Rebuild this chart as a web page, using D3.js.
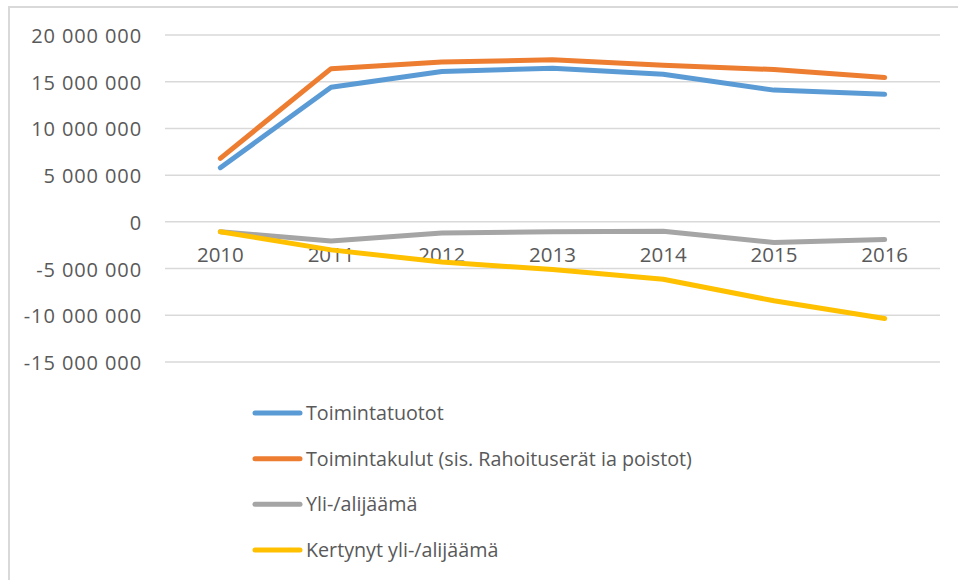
<!DOCTYPE html>
<html>
<head>
<meta charset="utf-8">
<script src="https://cdn.jsdelivr.net/npm/d3@7"></script>
<style>
  body { margin: 0; background: #fff; }
  text { font-family: "Open Sans", "Noto Sans", sans-serif; fill: #595959; }
</style>
</head>
<body>
<div id="chart"></div>
<script>
const years = ["2010", "2011", "2012", "2013", "2014", "2015", "2016"];
const seriesNames = [
    "Toimintatuotot",
    "Toimintakulut (sis. Rahoituserät ia poistot)",
    "Yli-/alijäämä",
    "Kertynyt yli-/alijäämä",
];
const toimintatuotot = [5800000, 14400000, 16100000, 16450000, 15800000, 14100000, 13650000];
const toimintakulut = [6800000, 16400000, 17100000, 17350000, 16750000, 16300000, 15450000];
const yliAlijaama = [-1050000, -2050000, -1200000, -1050000, -1000000, -2200000, -1900000];
const kertynyt = [-1050000, -3000000, -4300000, -5100000, -6150000, -8450000, -10350000];
const yTicks = [20000000, 15000000, 10000000, 5000000, 0, -5000000, -10000000, -15000000];
const colors = ["#5B9BD5", "#ED7D31", "#A5A5A5", "#FFC000"];

const width = 958;
const height = 580;
const plot = { left: 165, right: 940, top: 35, bottom: 362 };

const series = [toimintatuotot, toimintakulut, yliAlijaama, kertynyt];

const svg = d3.select("#chart")
    .append("svg")
    .attr("width", width)
    .attr("height", height);

// chart frame (only top and left visible)
svg.append("path")
    .attr("d", "M9,580 V7 H958")
    .attr("fill", "none")
    .attr("stroke", "#D9D9D9")
    .attr("stroke-width", 2);

const x = d3.scaleBand()
    .domain(years)
    .range([plot.left, plot.right]);

const y = d3.scaleLinear()
    .domain([-15000000, 20000000])
    .range([plot.bottom, plot.top]);

const fmt = d3.formatLocale({ decimal: ",", thousands: " ", grouping: [3], currency: ["", ""], minus: "-" }).format(",d");

// gridlines
svg.append("g")
    .selectAll("line")
    .data(yTicks)
    .enter()
    .append("line")
    .attr("x1", plot.left)
    .attr("x2", plot.right)
    .attr("y1", d => y(d))
    .attr("y2", d => y(d))
    .attr("stroke", "#D9D9D9")
    .attr("stroke-width", 1.5);

// y labels
svg.append("g")
    .selectAll("text")
    .data(yTicks)
    .enter()
    .append("text")
    .attr("x", 142)
    .attr("y", d => y(d) + 8)
    .attr("text-anchor", "end")
    .style("font-size", "20px")
    .style("letter-spacing", "0.9px")
    .text(d => fmt(d));

// x labels (sit just below the zero line)
svg.append("g")
    .selectAll("text")
    .data(years)
    .enter()
    .append("text")
    .attr("x", d => x(d) + x.bandwidth() / 2)
    .attr("y", y(0) + 40)
    .attr("text-anchor", "middle")
    .style("font-size", "20.5px")
    .text(d => d);

const line = d3.line()
    .x((d, i) => x(years[i]) + x.bandwidth() / 2)
    .y(d => y(d));

svg.append("g")
    .selectAll("path")
    .data(series)
    .enter()
    .append("path")
    .attr("d", d => line(d))
    .attr("fill", "none")
    .attr("stroke", (d, i) => colors[i])
    .attr("stroke-width", 5)
    .attr("stroke-linejoin", "round")
    .attr("stroke-linecap", "round");

// legend
const legendY = d3.scalePoint()
    .domain(seriesNames)
    .range([413, 550]);

const legend = svg.append("g");
legend.selectAll("line")
    .data(seriesNames)
    .enter()
    .append("line")
    .attr("x1", 255)
    .attr("x2", 300)
    .attr("y1", d => legendY(d))
    .attr("y2", d => legendY(d))
    .attr("stroke", (d, i) => colors[i])
    .attr("stroke-width", 5)
    .attr("stroke-linecap", "round");

legend.selectAll("text")
    .data(seriesNames)
    .enter()
    .append("text")
    .attr("x", 306)
    .attr("y", d => legendY(d) + 7)
    .style("font-size", "19.7px")
    .text(d => d);
</script>
</body>
</html>
